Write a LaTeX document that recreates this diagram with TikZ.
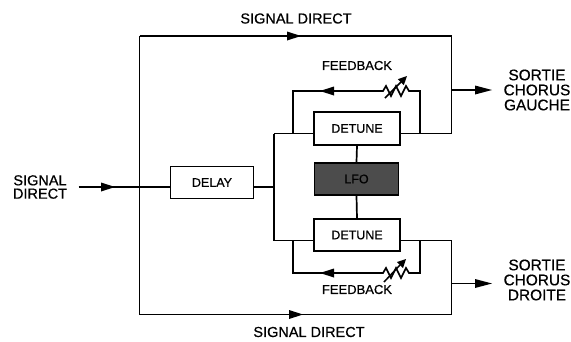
\documentclass[tikz,border=0pt]{standalone}
\usepackage{fontspec}
\setmainfont{Liberation Sans}[FakeBold=0.6]
\tikzset{
  wire/.style={line width=1.7pt},
  head/.style={fill=black},
  blk/.style={draw,line width=1.7pt,minimum width=85pt,minimum height=32pt,inner sep=0pt,font=\fontsize{12.5}{13}\selectfont},
  lbl/.style={font=\fontsize{14.5}{13.3}\selectfont,align=center,inner sep=0pt},
  outlbl/.style={font=\fontsize{15.4}{15}\selectfont,align=center,inner sep=0pt},
  fblbl/.style={font=\fontsize{13}{13}\selectfont,inner sep=0pt},
}
\begin{document}
\begin{tikzpicture}[x=1pt,y=-1pt]
\useasboundingbox (0,0) rectangle (571,341);
% labels
\node[lbl] (tt) at (296,18.5) {SIGNAL DIRECT};
\node[lbl] (tb) at (309,332) {SIGNAL DIRECT};
\node[lbl] (in) at (40,187) {SIGNAL\\DIRECT};
\node[outlbl] (og) at (537,90) {SORTIE\\CHORUS\\GAUCHE};
\node[outlbl] (od) at (537,280) {SORTIE\\CHORUS\\DROITE};
\node[fblbl] (fbt) at (357,65.5) {FEEDBACK};
\node[fblbl] (fbb) at (357,289.5) {FEEDBACK};
% blocks
\node[blk,minimum width=83pt] (delay) at (212,182.5) {DELAY};
\node[blk,minimum width=86pt,minimum height=33pt] (dt) at (357,128.5) {DETUNE};
\node[blk,minimum width=84pt,fill=black!70] (lfo) at (356.5,179) {LFO};
\node[blk,minimum width=86pt] (db) at (357,235) {DETUNE};
% coordinates
\coordinate (istart) at (78.5,187);
\coordinate (lj) at (139.5,187);
\coordinate (ltop) at (139.5,36);
\coordinate (lbot) at (139.5,314.5);
\coordinate (rtop) at (451.5,36);
\coordinate (rbot) at (451.5,314.5);
\coordinate (sm) at (274,187);
\coordinate (st) at (274,133.5);
\coordinate (sb) at (274,240.5);
\coordinate (dtin) at (314,133.5);
\coordinate (dbin) at (314,240.5);
\coordinate (dtout) at (400,133.5);
\coordinate (dbout) at (400,240.5);
\coordinate (rto) at (451.5,133.5);
\coordinate (rbo) at (451.5,240.5);
\coordinate (og1) at (451.5,90);
\coordinate (og2) at (478,90);
\coordinate (od1) at (451.5,283.5);
\coordinate (od2) at (478,283.5);
\coordinate (fbtl) at (293,133.5);
\coordinate (fbtr) at (420,133.5);
\coordinate (fbbl) at (293,240.5);
\coordinate (fbbr) at (420,240.5);
\coordinate (fbtc) at (293,91);
\coordinate (fbbc) at (293,273);
\coordinate (rst) at (380,91);
\coordinate (rsb) at (380,273);
% input
\draw[wire] (istart) -- (lj);
\fill[head] (115,187) -- (101,182.5) -- (101,191.5) -- cycle;
\draw[wire] (lj) -- (delay.west |- lj);
\draw[wire] (ltop) -- (lbot);
% direct paths
\draw[wire] (ltop) -- (rtop);
\fill[head] (301,36) -- (287,31.5) -- (287,40.5) -- cycle;
\draw[wire] (lbot) -- (rbot);
\fill[head] (303,314.5) -- (289,310) -- (289,319) -- cycle;
\draw[wire] (rtop) -- (rto) -- (dtout);
\draw[wire] (rbot) -- (rbo) -- (dbout);
\draw[wire] (og1) -- (og2);
\fill[head] (492,90) -- (475,85.5) -- (475,94.5) -- cycle;
\draw[wire] (od1) -- (od2);
\fill[head] (492,283.5) -- (475,279) -- (475,288) -- cycle;
% splitter
\draw[wire] (delay.east |- sm) -- (sm);
\draw[wire] (st) -- (sb);
\draw[wire] (st) -- (dtin);
\draw[wire] (sb) -- (dbin);
% LFO links
\draw[wire] (dt.south) -- (lfo.north);
\draw[wire] (lfo.south) -- (db.north);
% feedback top
\draw[wire] (rst) -- (fbtc) -- (fbtl);
\fill[head] (320,91) -- (334,86.5) -- (334,95.5) -- cycle;
\draw[wire,line join=miter] (fbtr) -- (420,91) -- (409,91) -- (406,86) -- (401,96) -- (396,86) -- (391,96) -- (386,86) -- (383,91) -- (rst);
\draw[line width=1.5pt] (385,98) -- (401,82);
\fill[head] (407,76) -- (403.8,85.2) -- (397.8,79.2) -- cycle;
% feedback bottom
\draw[wire] (rsb) -- (fbbc) -- (fbbl);
\fill[head] (320,273) -- (334,268.5) -- (334,277.5) -- cycle;
\draw[wire,line join=miter] (fbbr) -- (420,273) -- (409,273) -- (406,268) -- (401,278) -- (396,268) -- (391,278) -- (386,268) -- (383,273) -- (rsb);
\draw[line width=1.5pt] (384,282) -- (400,265);
\fill[head] (406,259) -- (403,268) -- (397,262) -- cycle;
\end{tikzpicture}
\end{document}
